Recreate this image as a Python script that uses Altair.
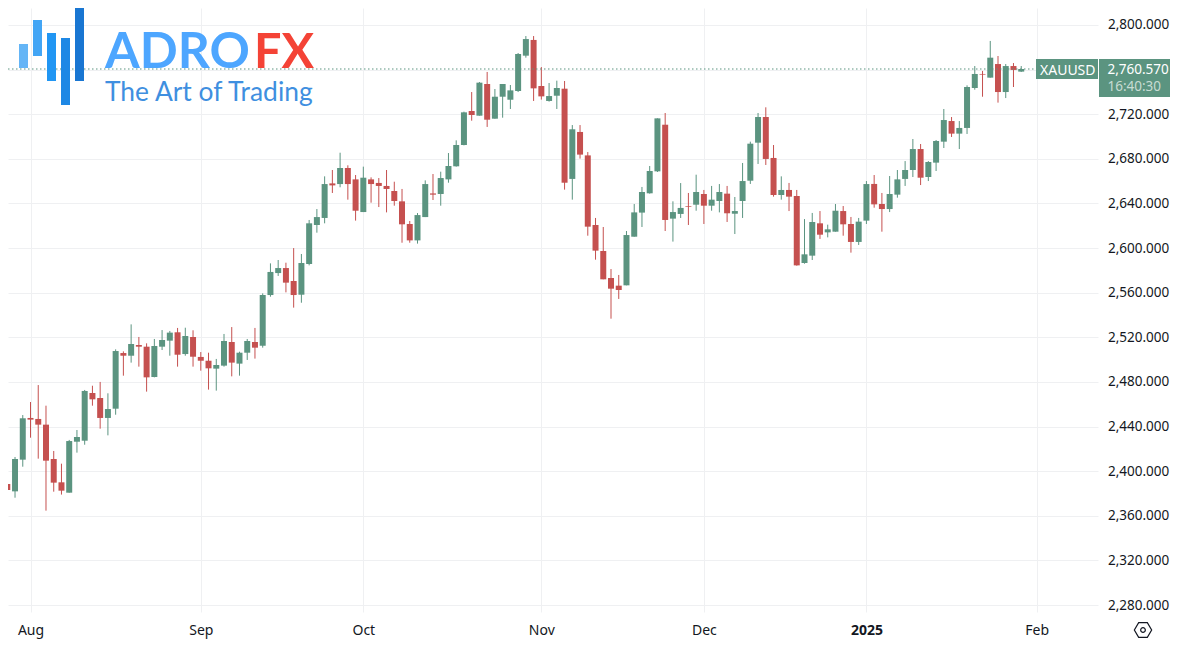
import altair as alt
import pandas as pd

opens = [2363.7,2388.5,2381.9,2410.3,2447.7,2446.8,2441.7,2410.9,2390.0,2380.7,
2426.4,2427.3,2470.1,2465.6,2447.7,2456.0,2505.9,2503.5,2513.1,2511.6,
2484.4,2511.6,2517.0,2524.5,2505.0,2520.3,2502.4,2499.0,2491.9,2494.6,
2515.8,2496.4,2506.2,2515.8,2512.5,2557.9,2577.6,2582.1,2570.5,2558.2,
2585.7,2620.7,2627.0,2658.0,2657.4,2671.8,2661.6,2632.3,2661.6,2658.4,
2655.7,2651.2,2641.9,2621.6,2606.9,2627.8,2649.0,2648.5,2661.6,2673.3,
2692.4,2722.9,2718.7,2747.1,2716.0,2735.7,2733.0,2740.8,2772.5,2786.6,
2745.3,2731.9,2736.6,2742.9,2662.0,2704.1,2683.1,2620.7,2597.4,2573.2,
2566.3,2566.6,2610.2,2631.8,2649.1,2668.8,2710.6,2626.4,2630.6,2637.7,
2638.9,2648.5,2638.0,2642.2,2648.8,2630.8,2642.2,2660.4,2694.5,2717.5,
2680.8,2647.6,2652.1,2646.7,2586.6,2593.2,2622.2,2614.1,2614.7,2633.2,
2621.6,2605.5,2624.6,2657.5,2639.5,2635.0,2647.9,2662.0,2670.0,2688.8,
2663.7,2676.6,2695.4,2713.9,2702.6,2707.7,2743.5,2756.1,2752.8,2765.0,
2739.9,2763.2,2758.2]
highs = [2387.6,2402.8,2412.7,2450.3,2462.0,2477.2,2458.7,2418.1,2406.7,2428.0,
2436.9,2472.8,2476.6,2480.0,2469.8,2509.2,2507.4,2531.6,2520.3,2514.6,
2518.5,2526.5,2525.7,2528.4,2528.6,2526.3,2506.8,2506.2,2500.6,2523.0,
2529.2,2507.1,2518.5,2528.4,2559.4,2586.3,2589.3,2586.9,2600.0,2594.7,
2625.2,2635.0,2664.3,2670.0,2685.5,2674.2,2665.5,2673.0,2663.4,2662.8,
2670.0,2659.5,2653.0,2624.3,2631.4,2660.7,2666.4,2668.5,2685.2,2696.6,
2722.3,2739.9,2748.9,2757.9,2742.6,2747.1,2746.2,2774.9,2790.1,2790.1,
2762.3,2748.0,2750.1,2749.8,2710.3,2710.3,2686.1,2627.0,2618.9,2581.2,
2575.9,2615.3,2639.5,2654.8,2673.6,2716.3,2721.1,2641.9,2658.3,2649.4,
2665.8,2652.1,2655.7,2657.4,2655.7,2645.8,2676.3,2695.4,2721.1,2726.2,
2692.4,2664.3,2658.4,2652.1,2626.0,2631.5,2633.2,2621.0,2639.5,2637.7,
2627.9,2627.0,2660.1,2665.5,2649.4,2664.6,2670.0,2678.0,2697.8,2693.3,
2678.0,2696.9,2724.7,2717.5,2713.9,2745.9,2763.2,2758.8,2785.7,2772.2,
2765.0,2765.9,2763.2]
lows = [2363.0,2369.1,2376.2,2404.0,2430.0,2411.2,2364.6,2381.6,2379.0,2380.7,
2416.6,2423.7,2458.7,2438.1,2432.1,2450.6,2485.6,2497.3,2493.7,2471.3,
2484.1,2508.6,2503.5,2493.7,2503.5,2493.7,2490.1,2473.1,2472.2,2493.7,
2485.0,2485.6,2499.7,2500.9,2510.7,2556.4,2575.0,2560.3,2546.6,2551.0,
2584.5,2613.8,2622.2,2649.4,2654.5,2643.4,2624.6,2632.3,2640.7,2636.8,
2632.0,2638.0,2604.8,2604.8,2604.0,2627.8,2643.1,2638.0,2658.6,2673.0,
2692.1,2714.2,2718.7,2708.6,2716.0,2716.9,2724.7,2739.9,2770.7,2731.9,
2733.1,2731.3,2724.7,2652.4,2643.4,2680.2,2611.1,2589.6,2572.0,2536.7,
2554.4,2566.6,2610.2,2618.9,2648.8,2668.2,2615.3,2605.8,2627.0,2620.7,
2633.5,2621.6,2633.5,2632.0,2623.4,2612.6,2627.0,2657.5,2675.4,2674.5,
2646.1,2643.4,2633.2,2584.2,2586.0,2589.3,2608.2,2609.6,2614.7,2611.1,
2595.9,2602.8,2621.6,2636.2,2614.7,2632.3,2645.2,2655.7,2663.7,2656.5,
2660.1,2669.1,2689.7,2699.6,2688.8,2702.3,2742.0,2735.7,2752.8,2730.4,
2734.5,2744.4,2757.9]
closes = [2386.7,2383.1,2410.9,2447.4,2446.2,2441.7,2409.4,2389.7,2382.5,2427.0,
2430.6,2471.9,2464.4,2447.7,2455.7,2507.7,2503.5,2514.0,2511.6,2484.1,
2512.2,2517.6,2524.2,2504.4,2521.2,2502.6,2499.0,2492.2,2495.2,2516.7,
2497.3,2506.2,2516.7,2510.7,2557.9,2578.6,2582.1,2569.0,2557.9,2586.6,
2622.2,2627.8,2657.4,2656.2,2671.8,2657.4,2633.5,2663.1,2657.4,2655.7,
2653.0,2642.2,2621.3,2606.9,2629.6,2657.4,2647.9,2662.8,2673.6,2692.4,
2721.7,2719.3,2748.3,2715.1,2735.7,2747.1,2741.4,2774.0,2787.4,2743.2,
2736.0,2736.3,2743.5,2658.6,2706.5,2683.8,2619.2,2597.7,2572.0,2563.6,
2562.4,2611.7,2632.0,2650.3,2669.1,2716.3,2625.2,2632.3,2636.0,2637.1,
2650.3,2638.0,2643.4,2650.3,2631.2,2633.2,2660.1,2693.6,2717.5,2679.9,
2647.6,2652.1,2646.1,2584.5,2594.4,2623.4,2612.0,2616.8,2633.5,2621.3,
2605.5,2623.7,2657.4,2639.2,2635.0,2648.5,2661.6,2670.0,2688.8,2663.1,
2677.2,2696.0,2714.8,2702.6,2707.7,2744.4,2756.1,2755.5,2770.7,2739.9,
2763.2,2759.7,2760.57]

tick_idx = [4, 26, 47, 70, 91, 112, 134]
tick_labels = ["Aug", "Sep", "Oct", "Nov", "Dec", "2025", "Feb"]
price_ticks = list(range(2280, 2801, 40))
last_price = 2760.57
GREEN = "#5b9480"
RED = "#c5504f"
FONT = "Noto Sans"

df = pd.DataFrame({"i": range(len(opens)), "open": opens, "high": highs, "low": lows, "close": closes})
df["dir"] = ["up" if c >= o else "down" for o, c in zip(opens, closes)]

xs = alt.Scale(domain=[1.092, 141.92], nice=False, zero=False, padding=0)
ys = alt.Scale(domain=[2273.73, 2815.24], nice=False, zero=False, padding=0)
col = alt.Color("dir:N", scale=alt.Scale(domain=["up", "down"], range=[GREEN, RED]), legend=None)

expr = "{" + ",".join(f"'{i}':'{l}'" for i, l in zip(tick_idx, tick_labels)) + "}[datum.value]"
x_axis = alt.Axis(values=tick_idx, labelExpr=expr, title=None, grid=True, gridColor="#eff0f2", gridWidth=1,
                  ticks=False, domain=False, labelFont=FONT, labelFontSize=14, labelColor="#131722",
                  labelPadding=11, labelAngle=0, labelOverlap=False, labelFlush=False,
                  labelFontWeight={"condition": {"test": "datum.value == 112", "value": 700}, "value": 400})
y_axis = alt.Axis(orient="right", values=price_ticks, format=",.3f", title=None, grid=True, gridColor="#eff0f2",
                  gridWidth=1, ticks=False, domain=False, labelFont=FONT, labelFontSize=13.5, labelColor="#131722",
                  labelPadding=9.5, labelAlign="left", labelOverlap=False)

wicks = alt.Chart(df).mark_rule(strokeWidth=1, clip=True).encode(
    x=alt.X("i:Q", scale=xs, axis=x_axis), y=alt.Y("low:Q", scale=ys, axis=y_axis), y2="high:Q", color=col)
bodies = alt.Chart(df).mark_bar(size=6, clip=True, orient="vertical").encode(
    x=alt.X("i:Q", scale=xs), y=alt.Y("open:Q", scale=ys), y2="close:Q", color=col)
price_line = alt.Chart(pd.DataFrame({"p": [last_price]})).mark_rule(
    strokeDash=[1.5, 2.5], strokeWidth=1.2, color=GREEN).encode(
    y=alt.Y("p:Q", scale=ys), x=alt.value(0), x2=alt.value(1028))


def box(x0, x1, y0, y1, color):
    return alt.Chart().mark_rect(color=color).encode(
        x=alt.value(x0 - 8), x2=alt.value(x1 - 8), y=alt.value(y0 - 8), y2=alt.value(y1 - 8))


def label(x, y, text, size, color, font=FONT, weight=400, align="left", baseline="alphabetic"):
    return alt.Chart().mark_text(text=text, fontSize=size, color=color, font=font, fontWeight=weight,
                                 align=align, baseline=baseline).encode(
        x=alt.value(x - 8), y=alt.value(y - 8))


logo = [box(19, 28, 44, 68, "#64b5f6"), box(33, 42, 20, 56, "#42a5f5"), box(47, 56, 33, 81, "#2196f3"),
        box(61, 70, 38, 105, "#1e88e5"), box(75, 84, 1, 81, "#1976d2"),
        label(105, 68, "ADRO", 50, "#4da6ff", "Lato", 700),
        label(254, 68, "FX", 48.5, "#f44336", "Lato", 700),
        label(105, 101, "The Art of Trading", 26.4, "#3f8fe0", "Lato", 400)]

tags = [box(1036, 1098, 59, 79, GREEN), box(1099, 1178, 59, 97, GREEN),
        label(1040, 75, "XAUUSD", 14, "white"),
        label(1107.5, 74, "2,760.570", 13.5, "white"),
        label(1107.5, 91, "16:40:30", 13.5, "#c7dcd3")]

gear = [alt.Chart().mark_point(shape="M-1,0L-.5,-.85L.5,-.85L1,0L.5,.85L-.5,.85Z", size=300, filled=False,
                               color="#131722", strokeWidth=1.2, opacity=1).encode(
            x=alt.value(1143 - 8), y=alt.value(630 - 8)),
        alt.Chart().mark_point(shape="circle", size=22, filled=False, color="#131722", strokeWidth=1.2,
                               opacity=1).encode(x=alt.value(1143 - 8), y=alt.value(630 - 8))]

chart = alt.layer(wicks, bodies, price_line, *logo, *tags, *gear).properties(
    width=1090, height=604, padding={"left": 0, "top": 0, "right": 72, "bottom": 30},
    autosize=alt.AutoSizeParams(type="none"), background="white"
).configure_view(stroke=None)

chart.save("out.html", embed_options={"renderer": "svg", "actions": False})
